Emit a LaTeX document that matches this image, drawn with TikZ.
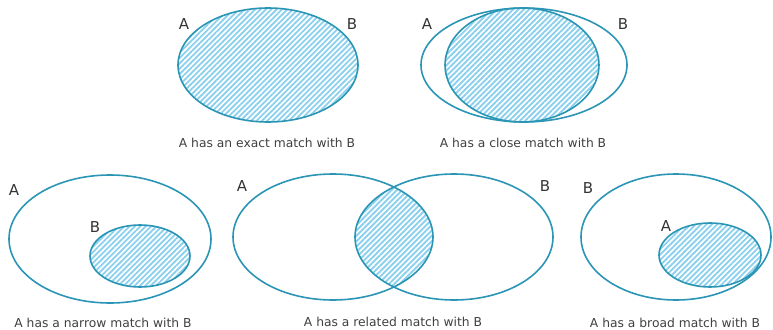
\documentclass[tikz,border=0pt]{standalone}
\usepackage{fontspec}
\setmainfont{DejaVu Sans}
\usetikzlibrary{patterns.meta}
\definecolor{edge}{HTML}{2A95B4}
\definecolor{hatch}{HTML}{8CD0EE}
\begin{document}
\begin{tikzpicture}[x=1pt,y=-1pt,
  outline/.style={draw=edge,line width=1.6pt},
  hatched/.style={pattern={Lines[angle=45,distance=3.8pt,line width=1.9pt]},pattern color=hatch},
  setlabel/.style={font=\fontsize{15}{17}\selectfont,text=black!80,inner sep=0pt},
  caption/.style={font=\fontsize{12.3}{14}\selectfont,text=black!75,inner sep=0pt}]
\useasboundingbox (0,0) rectangle (773,329);
% 1 exact
\fill[hatched] (268,65) ellipse [x radius=90,y radius=57];
\draw[outline] (268,65) ellipse [x radius=90,y radius=57];
\node[setlabel] (a1) at (184,24) {A};
\node[setlabel] (b1) at (352,24) {B};
\node[caption] (c1) at (267,143) {A has an exact match with B};
% 2 close
\fill[hatched] (522,65) ellipse [x radius=77,y radius=57];
\draw[outline] (524,65) ellipse [x radius=103,y radius=57];
\draw[outline] (522,65) ellipse [x radius=77,y radius=57];
\node[setlabel] (a2) at (427,24) {A};
\node[setlabel] (b2) at (623,24) {B};
\node[caption] (c2) at (523,143) {A has a close match with B};
% 3 narrow
\fill[hatched] (140,256) ellipse [x radius=50,y radius=31];
\draw[outline] (110,239) ellipse [x radius=101,y radius=64];
\draw[outline] (140,256) ellipse [x radius=50,y radius=31];
\node[setlabel] (a3) at (14,190) {A};
\node[setlabel] (b3) at (95,227) {B};
\node[caption] (c3) at (103,323) {A has a narrow match with B};
% 4 related
\begin{scope}
  \clip (333,237) ellipse [x radius=100,y radius=63];
  \fill[hatched] (454,237) ellipse [x radius=99,y radius=63];
\end{scope}
\draw[outline] (333,237) ellipse [x radius=100,y radius=63];
\draw[outline] (454,237) ellipse [x radius=99,y radius=63];
\node[setlabel] (a4) at (242,186) {A};
\node[setlabel] (b4) at (545,186) {B};
\node[caption] (c4) at (393,322) {A has a related match with B};
% 5 broad
\fill[hatched] (710,255) ellipse [x radius=51,y radius=32];
\draw[outline] (676,237) ellipse [x radius=95,y radius=63];
\draw[outline] (710,255) ellipse [x radius=51,y radius=32];
\node[setlabel] (b5) at (588,188) {B};
\node[setlabel] (a5) at (666,226) {A};
\node[caption] (c5) at (675,323) {A has a broad match with B};
\end{tikzpicture}
\end{document}
